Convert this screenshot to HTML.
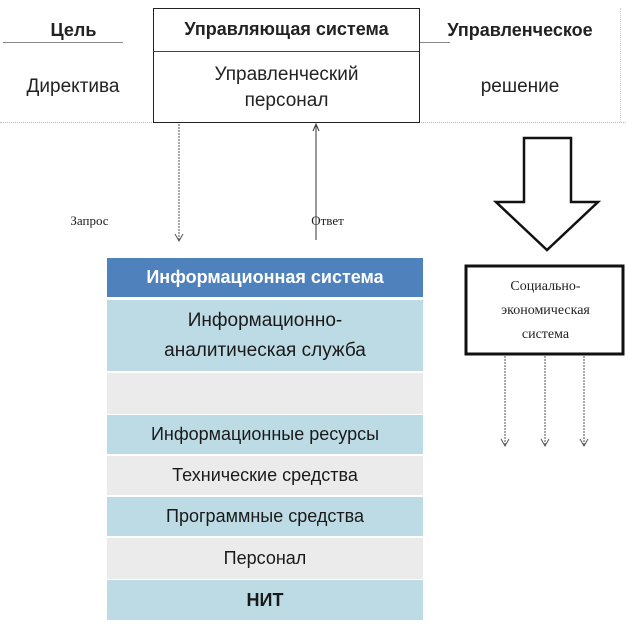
<!DOCTYPE html>
<html><head><meta charset="utf-8"><style>
body{margin:0;width:626px;height:627px;background:#fff;position:relative;overflow:hidden;font-family:"Liberation Sans","Noto Sans CJK SC",sans-serif;}
.a{position:absolute;}
.t{position:absolute;text-align:center;color:#222;}
.row{position:absolute;left:107px;width:316px;display:flex;align-items:center;justify-content:center;text-align:center;font-size:18px;color:#1a1a1a;line-height:23px;}
.b{background:#bcdbe4;}
.g{background:#ebebeb;}
</style></head><body>
<div class="a" style="left:0;top:122px;width:626px;border-top:1px dotted #bbb"></div>
<div class="a" style="left:620px;top:8px;height:114px;border-left:1px dotted #ccc"></div>
<div class="a" style="left:3px;top:42px;width:120px;border-top:1px solid #888"></div>
<div class="a" style="left:420px;top:42px;width:30px;border-top:1px solid #888"></div>
<div class="t" style="left:31px;top:20px;width:85px;font-size:18px;font-weight:bold">Цель</div>
<div class="t" style="left:420px;top:20px;width:200px;font-size:18px;font-weight:bold">Управленческое</div>
<div class="t" style="left:8px;top:76px;width:130px;font-size:19px">Директива</div>
<div class="t" style="left:440px;top:76px;width:160px;font-size:19px">решение</div>
<div class="a" style="left:153px;top:8px;width:265px;height:113px;border:1px solid #222;background:#fff"></div>
<div class="a" style="left:153px;top:51px;width:266px;border-top:1px solid #444"></div>
<div class="t" style="left:153px;top:19px;width:267px;font-size:18px;font-weight:bold">Управляющая система</div>
<div class="t" style="left:153px;top:62px;width:267px;font-size:19px;line-height:26px">Управленческий<br>персонал</div>
<svg class="a" style="left:0;top:0" width="626" height="627">
<line x1="179" y1="124" x2="179" y2="240" stroke="#555" stroke-dasharray="2,1"/>
<path d="M175 234 L179 241 L183 234" fill="none" stroke="#555"/>
<line x1="316" y1="126" x2="316" y2="240" stroke="#333"/>
<path d="M313 131 L316 124 L319 131" fill="none" stroke="#333"/>
<path d="M524 138 H571 V202 H598 L547 250 L496 202 H524 Z" fill="#fff" stroke="#111" stroke-width="2.5"/>
<rect x="466" y="266" width="157" height="88" fill="#fff" stroke="#111" stroke-width="3"/>
<g stroke="#555" stroke-dasharray="2,1" fill="none">
<line x1="505" y1="356" x2="505" y2="445"/><line x1="545" y1="356" x2="545" y2="445"/><line x1="584" y1="356" x2="584" y2="445"/>
</g>
<g stroke="#555" fill="none">
<path d="M501 439 L505 446 L509 439"/><path d="M541 439 L545 446 L549 439"/><path d="M580 439 L584 446 L588 439"/>
</g>
</svg>
<div class="t" style="left:62px;top:213px;width:55px;font-size:13px;font-family:'Liberation Serif',serif">Запрос</div>
<div class="t" style="left:300px;top:213px;width:55px;font-size:13px;font-family:'Liberation Serif',serif">Ответ</div>
<div class="t" style="left:468px;top:275px;width:155px;font-size:14px;line-height:24px;font-family:'Liberation Serif',serif">Социально-<br>экономическая<br>система</div>
<div class="row" style="top:258px;height:39px;background:#4f81bd;color:#fff;font-weight:bold;font-size:18px">Информационная система</div>
<div class="row b" style="top:300px;height:71px;font-size:19px;line-height:30px">Информационно-<br>аналитическая служба</div>
<div class="row g" style="top:373px;height:41px"></div>
<div class="row b" style="top:415px;height:39px">Информационные ресурсы</div>
<div class="row g" style="top:456px;height:39px">Технические средства</div>
<div class="row b" style="top:497px;height:39px">Программные средства</div>
<div class="row g" style="top:538px;height:41px">Персонал</div>
<div class="row b" style="top:580px;height:40px;font-weight:bold">НИТ</div>
</body></html>
